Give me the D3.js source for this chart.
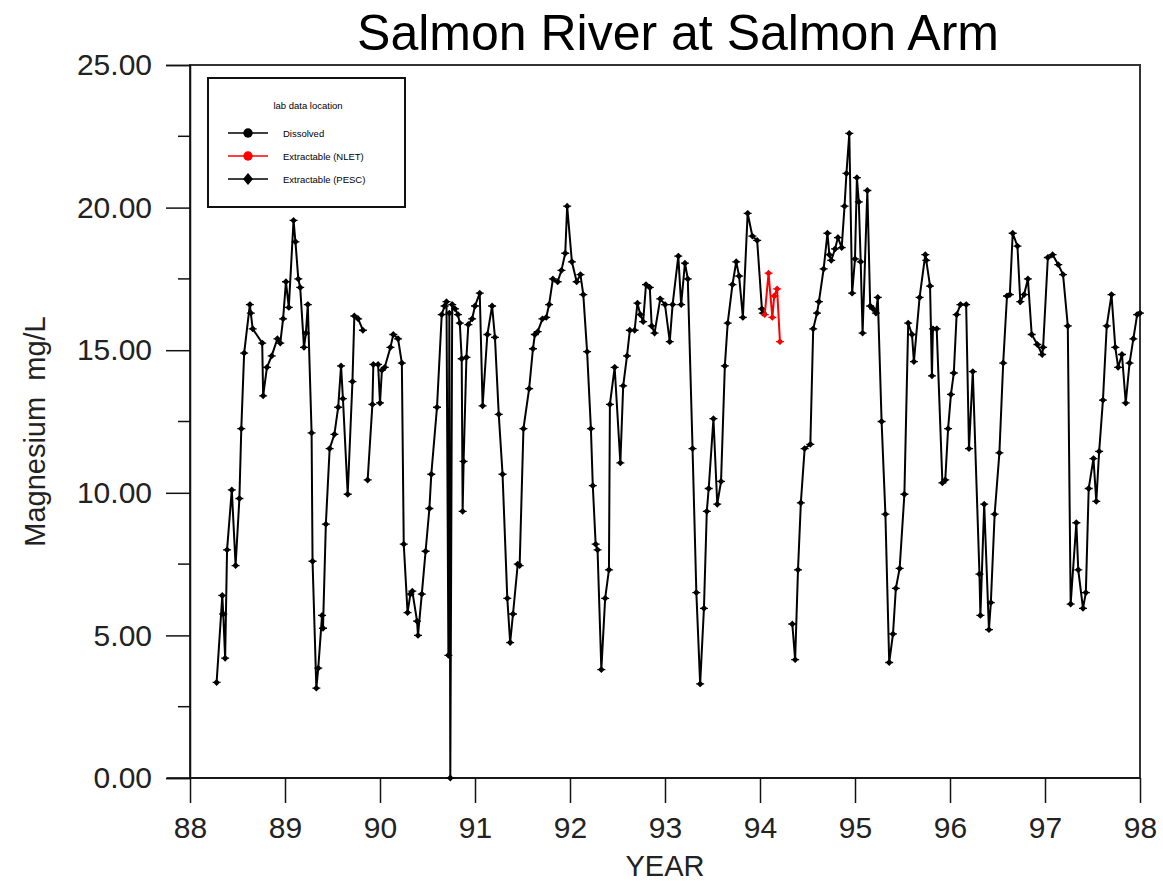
<!DOCTYPE html>
<html>
<head>
<meta charset="utf-8">
<script src="https://cdn.jsdelivr.net/npm/d3@7"></script>
<style>
  body { margin: 0; background: #fff; }
  text { font-family: "Liberation Sans", Arial, sans-serif; }
</style>
</head>
<body>
<svg id="chart"></svg>
<script>
// dissolved magnesium, [decimal year, mg/L]; null value = break in the line
var dissolved = [
  [88.28, 3.35], [88.34, 6.4], [88.35, 5.75], [88.37, 4.2], [88.39, 8.0], [88.44, 10.1],
  [88.48, 7.45], [88.52, 9.8], [88.54, 12.25], [88.57, 14.9], [88.63, 16.6], [88.64, 16.3],
  [88.66, 15.75], [88.76, 15.25], [88.77, 13.4], [88.81, 14.4], [88.86, 14.8], [88.92, 15.4],
  [88.95, 15.25], [88.98, 16.1], [89.01, 17.4], [89.04, 16.5], [89.09, 19.55], [89.11, 18.8],
  [89.14, 17.5], [89.16, 17.2], [89.20, 15.1], [89.22, 15.6], [89.24, 16.6], [89.28, 12.1],
  [89.29, 7.6], [89.33, 3.15], [89.35, 3.85], [89.39, 5.7], [89.40, 5.25], [89.43, 8.9],
  [89.47, 11.55], [89.52, 12.05], [89.56, 13.0], [89.59, 14.45], [89.61, 13.3], [89.66, 9.95],
  [89.71, 13.9], [89.73, 16.2], [89.77, 16.1], [89.82, 15.7], [89.845, null],
  [89.87, 10.45], [89.92, 13.1], [89.93, 14.5], [89.98, 14.5], [90.00, 13.15], [90.02, 14.3],
  [90.05, 14.4], [90.11, 15.1], [90.14, 15.55], [90.19, 15.4], [90.23, 14.55], [90.25, 8.2],
  [90.29, 5.8], [90.32, 6.45], [90.34, 6.55], [90.39, 5.5], [90.40, 5.0], [90.44, 6.45],
  [90.48, 7.95], [90.52, 9.45], [90.54, 10.65], [90.60, 13.0], [90.65, 16.25], [90.68, 16.55],
  [90.70, 16.7], [90.72, 4.3], [90.73, 16.3], [90.74, 0.0], [90.76, 16.6], [90.79, 16.45],
  [90.82, 16.25], [90.84, 15.95], [90.86, 14.7], [90.87, 9.35], [90.88, 11.1], [90.91, 14.75],
  [90.93, 15.9], [90.97, 16.1], [91.00, 16.55], [91.05, 17.0], [91.08, 13.05], [91.13, 15.55],
  [91.18, 16.55], [91.21, 15.45], [91.25, 12.75], [91.29, 10.65], [91.34, 6.3], [91.37, 4.75],
  [91.40, 5.75], [91.45, 7.5], [91.47, 7.45], [91.51, 12.25], [91.57, 13.65], [91.61, 15.05],
  [91.63, 15.55], [91.66, 15.65], [91.71, 16.1], [91.75, 16.15], [91.78, 16.6], [91.82, 17.5],
  [91.87, 17.4], [91.91, 17.8], [91.95, 18.4], [91.97, 20.05], [92.02, 18.1], [92.07, 17.4],
  [92.11, 17.65], [92.14, 16.95], [92.18, 14.95], [92.22, 12.25], [92.24, 10.25], [92.27, 8.2],
  [92.29, 8.0], [92.33, 3.8], [92.37, 6.3], [92.41, 7.3], [92.42, 13.1], [92.47, 14.4],
  [92.53, 11.05], [92.56, 13.75], [92.60, 14.8], [92.63, 15.7], [92.68, 15.7], [92.71, 16.65],
  [92.74, 16.25], [92.77, 16.0], [92.80, 17.3], [92.84, 17.2], [92.86, 15.85], [92.89, 15.6],
  [92.95, 16.8], [93.00, 16.6], [93.05, 15.3], [93.08, 16.6], [93.14, 18.3], [93.17, 16.6],
  [93.21, 18.05], [93.24, 17.5], [93.29, 11.55], [93.33, 6.5], [93.37, 3.3], [93.41, 5.95],
  [93.44, 9.35], [93.46, 10.15], [93.51, 12.6], [93.55, 9.6], [93.59, 10.4], [93.63, 14.45],
  [93.66, 15.95], [93.71, 17.3], [93.75, 18.1], [93.78, 17.6], [93.82, 16.15], [93.87, 19.8],
  [93.92, 19.0], [93.97, 18.85], [94.02, 16.45], [94.03, 16.3], [94.2, null],
  [94.34, 5.4], [94.37, 4.15], [94.40, 7.3], [94.43, 9.65], [94.47, 11.55], [94.53, 11.7],
  [94.56, 15.75], [94.60, 16.3], [94.62, 16.7], [94.67, 17.85], [94.71, 19.1], [94.73, 18.35],
  [94.75, 18.15], [94.79, 18.55], [94.82, 18.95], [94.86, 18.6], [94.89, 20.05], [94.91, 21.2],
  [94.94, 22.6], [94.97, 17.0], [95.00, 18.2], [95.02, 21.05], [95.04, 20.2], [95.06, 18.1],
  [95.08, 15.6], [95.13, 20.6], [95.16, 16.55], [95.19, 16.45], [95.22, 16.3], [95.24, 16.85],
  [95.28, 12.5], [95.32, 9.25], [95.36, 4.05], [95.40, 5.05], [95.43, 6.65], [95.47, 7.35],
  [95.52, 9.95], [95.56, 15.95], [95.60, 15.55], [95.62, 14.6], [95.68, 16.85], [95.74, 18.35],
  [95.75, 18.15], [95.79, 17.25], [95.81, 14.1], [95.82, 15.75], [95.86, 15.75], [95.92, 10.35],
  [95.95, 10.45], [95.98, 12.25], [96.01, 13.45], [96.04, 14.2], [96.07, 16.25], [96.11, 16.6],
  [96.17, 16.6], [96.20, 11.55], [96.24, 14.25], [96.31, 7.15], [96.32, 5.7], [96.36, 9.6],
  [96.41, 5.2], [96.43, 6.15], [96.47, 9.25], [96.52, 11.4], [96.56, 14.55], [96.60, 16.9],
  [96.63, 16.95], [96.66, 19.1], [96.71, 18.65], [96.74, 16.7], [96.78, 16.95], [96.82, 17.5],
  [96.86, 15.55], [96.92, 15.2], [96.97, 14.85], [96.98, 15.1], [97.03, 18.25], [97.08, 18.35],
  [97.14, 18.0], [97.19, 17.65], [97.24, 15.85], [97.27, 6.1], [97.33, 8.95], [97.35, 7.3],
  [97.40, 5.95], [97.43, 6.5], [97.46, 10.15], [97.51, 11.2], [97.54, 9.7], [97.57, 11.45],
  [97.61, 13.25], [97.65, 15.85], [97.70, 16.95], [97.74, 15.1], [97.77, 14.4], [97.81, 14.85],
  [97.85, 13.15], [97.89, 14.55], [97.93, 15.4], [97.97, 16.25], [98.00, 16.3]
];

// extractable (NLET), red
var extractableNlet = [
  [94.05, 16.25], [94.09, 17.7], [94.13, 16.15], [94.15, 16.9], [94.18, 17.15], [94.21, 15.3]
];

var yearTicks = [88, 89, 90, 91, 92, 93, 94, 95, 96, 97, 98];
var mgTicks = [0, 5, 10, 15, 20, 25];
var mgMinorTicks = [2.5, 7.5, 12.5, 17.5, 22.5];
var legendItems = ["Dissolved", "Extractable (NLET)", "Extractable (PESC)"];
var legendColors = ["#000", "#f00", "#000"];

var width = 1163, height = 884;
var plotL = 190, plotR = 1140, plotT = 65, plotB = 778;

var svg = d3.select("#chart").attr("width", width).attr("height", height);

var x = d3.scaleLinear().domain([88, 98]).range([plotL, plotR]);
var y = d3.scaleLinear().domain([0, 25]).range([plotB, plotT]);

/* frame */
svg.append("rect")
  .attr("x", plotL).attr("y", plotT)
  .attr("width", plotR - plotL).attr("height", plotB - plotT)
  .attr("fill", "none").attr("stroke", "#333").attr("stroke-width", 2);

/* axes */
var xAxis = svg.append("g")
  .attr("transform", "translate(0," + plotB + ")")
  .call(d3.axisBottom(x).tickValues(yearTicks).tickSize(25).tickPadding(14)
    .tickFormat(d3.format("d")));
xAxis.select(".domain").remove();
xAxis.append("line").attr("x1", 167).attr("x2", plotR).attr("stroke", "#111").attr("stroke-width", 1.5);

var yAxis = svg.append("g")
  .attr("transform", "translate(" + plotL + ",0)")
  .call(d3.axisLeft(y).tickValues(mgTicks).tickSize(24).tickPadding(14)
    .tickFormat(d3.format(".2f")));
yAxis.select(".domain").attr("stroke", "#111").attr("stroke-width", 1.5);

svg.append("g").selectAll("line")
  .data(mgMinorTicks).enter().append("line")
  .attr("x1", plotL - 12).attr("x2", plotL)
  .attr("y1", d => y(d)).attr("y2", d => y(d))
  .attr("stroke", "#111").attr("stroke-width", 1.5);

svg.selectAll(".tick line").attr("stroke", "#111").attr("stroke-width", 1.5);
svg.selectAll(".tick text")
  .attr("font-size", 30).attr("fill", "#222")
  .style("font-family", "'Liberation Sans', Arial, sans-serif");

/* titles */
svg.append("text")
  .attr("x", 678).attr("y", 50)
  .attr("text-anchor", "middle")
  .attr("font-size", 50).attr("fill", "#000")
  .text("Salmon River at Salmon Arm");

svg.append("text")
  .attr("x", 665).attr("y", 876)
  .attr("text-anchor", "middle")
  .attr("font-size", 29).attr("fill", "#222")
  .text("YEAR");

svg.append("text")
  .attr("transform", "translate(45," + ((plotT + plotB) / 2 + 10) + ") rotate(-90)")
  .attr("text-anchor", "middle")
  .attr("font-size", 29).attr("fill", "#222")
  .attr("xml:space", "preserve")
  .text("Magnesium  mg/L");

/* lines */
var line = d3.line()
  .defined(d => d[1] !== null)
  .x(d => x(d[0]))
  .y(d => y(d[1]));

var marker = "M-4,0H4M0,-2.5L2.5,0L0,2.5L-2.5,0Z";

function drawSeries(data, color) {
  var g = svg.append("g");
  g.append("path")
    .attr("d", line(data))
    .attr("fill", "none")
    .attr("stroke", color)
    .attr("stroke-width", 2);
  g.selectAll("path.pt")
    .data(data.filter(d => d[1] !== null)).enter()
    .append("path")
    .attr("class", "pt")
    .attr("d", marker)
    .attr("transform", d => "translate(" + x(d[0]) + "," + y(d[1]) + ")")
    .attr("fill", color)
    .attr("stroke", color)
    .attr("stroke-width", 1.3);
}

drawSeries(dissolved, "#000");
drawSeries(extractableNlet, "#f00");

/* legend */
var legend = svg.append("g").attr("transform", "translate(208,78)");
legend.append("rect")
  .attr("width", 197).attr("height", 129)
  .attr("fill", "#fff").attr("stroke", "#111").attr("stroke-width", 2);
legend.append("text")
  .attr("x", 100).attr("y", 31)
  .attr("text-anchor", "middle")
  .attr("font-size", 9.5).attr("fill", "#000")
  .text("lab data location");

var rows = legend.selectAll(".row")
  .data(legendItems).enter().append("g")
  .attr("class", "row")
  .attr("transform", (d, i) => "translate(0," + (55 + i * 23) + ")");
rows.append("line")
  .attr("x1", 20).attr("x2", 60)
  .attr("stroke", (d, i) => legendColors[i]).attr("stroke-width", 1.5);
rows.append("path")
  .attr("transform", "translate(40,0)")
  .attr("d", (d, i) => i === 2
    ? "M0,-6L5,0L0,6L-5,0Z"
    : d3.symbol().type(d3.symbolCircle).size(70)())
  .attr("fill", (d, i) => legendColors[i]);
rows.append("text")
  .attr("x", 75).attr("y", 3.5)
  .attr("font-size", 9.5).attr("fill", "#000")
  .text(d => d);
</script>
</body>
</html>
